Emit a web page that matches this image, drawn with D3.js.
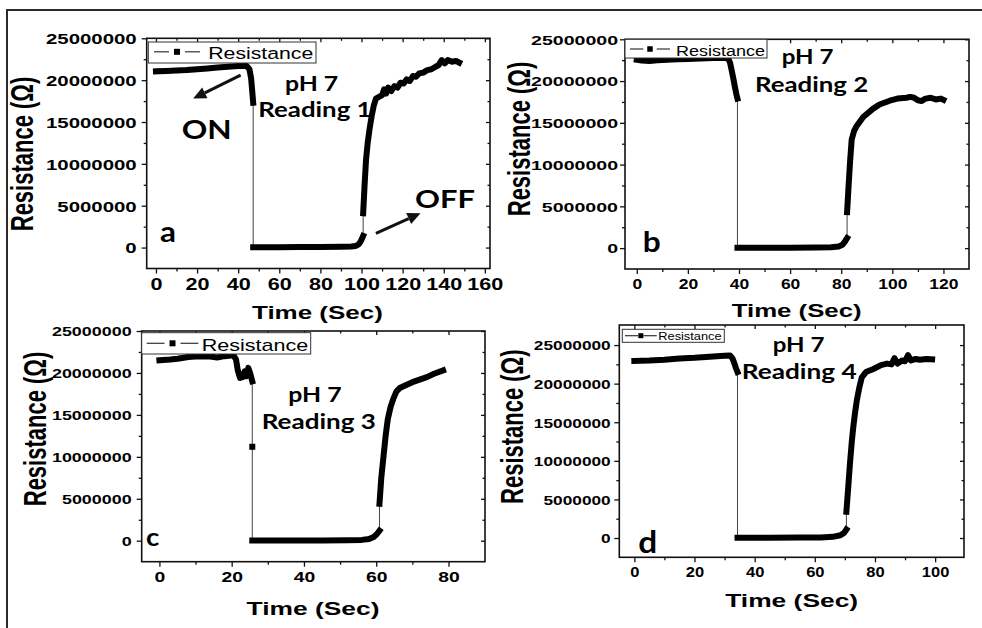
<!DOCTYPE html>
<html>
<head>
<meta charset="utf-8">
<script src="https://cdn.jsdelivr.net/npm/d3@7"></script>
<style>
  html, body { margin: 0; padding: 0; background: #fff; }
  svg { display: block; }
</style>
</head>
<body>
<svg id="fig" width="982" height="628"></svg>
<script>
// ---------------------------------------------------------------
// Resistance response of the sensor at pH 7, four repeated readings.
// Time in seconds, resistance in megaohms (MΩ).
// Each reading is a list of dense sampling runs; consecutive runs are
// joined by the thin connector of the line+symbol trace.
// ---------------------------------------------------------------

// Reading 1 (panel a)
const readingA = [
  [[0,21.05],[5,21.1],[10,21.15],[15,21.2],[20,21.3],[25,21.4],[30,21.5],[35,21.6],[40,21.7],
   [44,21.72],[45.5,21.3],[46.3,20.2],[46.8,18.8],[47.3,17.3]],
  [[47.3,0.05],[60,0.05],[70,0.06],[80,0.08],[90,0.1],[95,0.13],[97,0.18],[98.5,0.35],
   [99.5,0.7],[100.3,1.1],[100.8,1.4]],
  [[100.8,4.1],[101.5,7.5],[102.2,10.5],[103,12.5],[104,14.3],[105,15.8],[106,17.0],[107,17.8],
   [108.5,18.0],[110,18.2],[111,18.9],[112,18.4],[113,19.1],[114.5,18.7],[116,19.3],[117.5,19.1],
   [119,19.7],[120.5,19.6],[122,20.1],[123.5,19.9],[125,20.5],[126.5,20.4],[128,20.8],[130,20.9],
   [132,21.2],[134,21.3],[136,21.6],[137.5,21.8],[139,22.4],[140.5,22.0],[142,22.4],[144,22.2],
   [146,22.3],[147.5,22.1]]
];

// Reading 2 (panel b)
const readingB = [
  [[0,22.55],[2,22.45],[5,22.4],[8,22.5],[12,22.55],[16,22.6],[20,22.65],[25,22.7],[30,22.75],
   [34,22.8],[35.8,22.7],[36.5,22.2],[37.2,21.2],[37.8,20.3],[38.4,19.3],[39,18.4],[39.4,17.9]],
  [[39.4,0.03],[50,0.03],[60,0.04],[70,0.06],[76,0.1],[79,0.2],[80.5,0.4],[81.5,0.8],[82.3,1.2]],
  [[82.3,4.3],[82.9,7.5],[83.5,10.5],[84.1,13.0],[85,14.0],[86,14.6],[88.6,15.7],[92.5,16.7],
   [95,17.2],[99,17.65],[102,17.9],[105.5,18.0],[107,18.1],[108.5,18.0],[110,17.7],[111.5,17.6],
   [113,17.9],[115,18.0],[117,17.8],[119,17.9],[120,17.75]]
];

// Reading 3 (panel c); the single sample at 25.7 s sits mid-drop
const readingC = [
  [[0,21.5],[3,21.6],[5,21.7],[8,21.9],[11,22.0],[14,21.95],[16,21.85],[18,22.0],[20.5,22.1],
   [21.2,21.6],[21.7,20.3],[22.3,19.4],[23,19.5],[23.6,20.2],[24.1,19.6],[24.6,20.6],[25.1,20.0],
   [25.7,19.0]],
  [[25.7,11.2]],
  [[25.7,0.03],[35,0.03],[45,0.04],[52,0.06],[56,0.1],[58,0.2],[59.3,0.45],[60.2,0.8],[60.9,1.2]],
  [[60.9,4.4],[61.4,7.5],[62,10.0],[62.6,12.5],[63.2,14.5],[64,16.0],[64.8,17.0],[65.6,17.8],
   [66.5,18.2],[68,18.5],[70,18.9],[72,19.2],[74,19.5],[76,19.9],[78.5,20.3]]
];

// Reading 4 (panel d)
const readingD = [
  [[0,22.95],[5,23.0],[10,23.1],[15,23.25],[20,23.35],[25,23.5],[30,23.6],[31.8,23.65],
   [32.6,23.3],[33.2,22.7],[33.8,22.0],[34.3,21.5]],
  [[34.3,0.03],[45,0.03],[55,0.05],[62,0.08],[66,0.15],[68.5,0.35],[69.7,0.65],[70.5,1.1]],
  [[70.5,3.4],[71.1,6.5],[71.7,9.7],[72.3,12.5],[72.8,14.4],[73.4,16.3],[74,17.9],[74.8,19.5],
   [75.6,20.8],[77,21.5],[79.5,21.9],[82,22.4],[84,22.6],[85.5,22.5],[86.5,23.3],[87.5,22.6],
   [89,23.0],[90,22.9],[91,23.7],[92,23.0],[93.5,23.2],[95,23.1],[97,23.2],[99,23.15]]
];

// Axis tick labels
const timeTicksA = [0, 20, 40, 60, 80, 100, 120, 140, 160];
const timeTicksB = [0, 20, 40, 60, 80, 100, 120];
const timeTicksC = [0, 20, 40, 60, 80];
const timeTicksD = [0, 20, 40, 60, 80, 100];
const resistanceTicks = [0, 5000000, 10000000, 15000000, 20000000, 25000000];

// Text
const seriesName = "Resistance";
const xTitle = "Time (Sec)";
const yTitle = "Resistance (\u03A9)";
const conditionLabel = "pH 7";
const readingLabels = ["Reading 1", "Reading 2", "Reading 3", "Reading 4"];
const panelLetters = ["a", "b", "c", "d"];

// Switching arrows of panel a: [time, resistance MΩ] tail -> tip
const arrowOn  = { text: "ON",  tail: [41.2, 20.6], tip: [18.1, 17.8] };
const arrowOff = { text: "OFF", tail: [107, 1.7],   tip: [128.7, 4.1] };

// ---------------------------------------------------------------
const ARIAL = "'Liberation Sans', Arial, Helvetica, sans-serif";
const HUMAN = "Lato, 'Open Sans', sans-serif";
const MEG = 1e6;

const svg = d3.select("#fig");

// outer border of the figure
svg.append("path")
  .attr("d", "M7,628V10H982")
  .attr("fill", "none")
  .attr("stroke", "#2a2a2a")
  .attr("stroke-width", 2);

// text whose width is fitted to a given span (the figure is drawn wide)
function fitText(parent, str, x0, base, width, size, family, weight) {
  const g = parent.append("g");
  const t = g.append("text")
    .attr("font-family", family)
    .attr("font-weight", weight)
    .attr("font-size", size)
    .attr("fill", "#000")
    .text(str);
  const w = t.node().getComputedTextLength();
  g.attr("transform", `translate(${x0},${base}) scale(${width / w},1)`);
  return g;
}

const panels = [
  {
    runs: readingA, ticks: timeTicksA, xDomain: [-4.5, 162.5], yDomain: [-2.5e6, 25e6],
    frame: { x0: 146.7, x1: 490, y0: 38.3, y1: 268.5 },
    yTick: { size: 15, sx: 1.36, gap: 10 }, xTick: { size: 16, sx: 1.35, base: 21.5 },
    xT: { cx: 317.5, base: 319, w: 131 }, yT: { bx: 33.3, cy: 154 },
    legend: { x0: 148.3, x1: 316, y0: 42, y1: 63, l0: 154, l1: 200, ly: 51.8, sq: 6, gap: 5, tx: 208.3, tb: 59.3, tw: 105, ts: 17 },
    notes: [
      { text: conditionLabel, x0: 285, base: 90.7, w: 53.3, size: 20.5 },
      { text: readingLabels[0], x0: 258.3, base: 117.3, w: 113.3, size: 20.5 },
      { text: arrowOn.text, x0: 181.7, base: 139.3, w: 50, size: 27 },
      { text: arrowOff.text, x0: 415, base: 208.3, w: 60, size: 25.5 },
      { text: panelLetters[0], x0: 160, base: 241.7, w: 16, size: 28 }
    ],
    arrows: [arrowOn, arrowOff]
  },
  {
    runs: readingB, ticks: timeTicksB, xDomain: [-4.6, 130], yDomain: [-2.5e6, 25e6],
    frame: { x0: 625, x1: 969, y0: 39.3, y1: 269 },
    yTick: { size: 13.5, sx: 1.45, gap: 7 }, xTick: { size: 14, sx: 1.25, base: 20 },
    xT: { cx: 796.7, base: 317, w: 130 }, yT: { bx: 530, cy: 139 },
    legend: { x0: 625, x1: 767, y0: 39.3, y1: 58, l0: 630, l1: 670, ly: 49, sq: 5.5, gap: 4, tx: 676, tb: 55.5, tw: 89, ts: 15 },
    notes: [
      { text: conditionLabel, x0: 781.7, base: 64, w: 51.7, size: 20.5 },
      { text: readingLabels[1], x0: 755, base: 91.7, w: 113.3, size: 20.5 },
      { text: panelLetters[1], x0: 642.7, base: 251.7, w: 18, size: 29 }
    ],
    arrows: []
  },
  {
    runs: readingC, ticks: timeTicksC, xDomain: [-4.9, 90.1], yDomain: [-2.5e6, 25e6],
    frame: { x0: 141.7, x1: 485, y0: 331, y1: 561.7 },
    yTick: { size: 13, sx: 1.38, gap: 10 }, xTick: { size: 14, sx: 1.38, base: 20.6 },
    xT: { cx: 313, base: 615, w: 133 }, yT: { bx: 46, cy: 429 },
    legend: { x0: 141.7, x1: 310.7, y0: 332.7, y1: 354, l0: 146.7, l1: 198.3, ly: 343.3, sq: 6, gap: 5, tx: 201.7, tb: 350.7, tw: 106.7, ts: 17 },
    notes: [
      { text: conditionLabel, x0: 288.3, base: 401.7, w: 53.3, size: 20.5 },
      { text: readingLabels[2], x0: 261.7, base: 429.3, w: 114.3, size: 20.5 },
      { text: panelLetters[2], x0: 146, base: 546, w: 13.3, size: 25 }
    ],
    arrows: []
  },
  {
    runs: readingD, ticks: timeTicksD, xDomain: [-5, 109.6], yDomain: [-2.5e6, 27.6e6],
    frame: { x0: 619.3, x1: 964, y0: 325, y1: 557.3 },
    yTick: { size: 13.5, sx: 1.28, gap: 8.6 }, xTick: { size: 14, sx: 1.18, base: 19.4 },
    xT: { cx: 791.7, base: 606.7, w: 133 }, yT: { bx: 523, cy: 426.7 },
    legend: { x0: 622.3, x1: 724.3, y0: 329.3, y1: 342.3, l0: 625, l1: 656.7, ly: 335.7, sq: 5, gap: 0, tx: 658.3, tb: 340, tw: 63.3, ts: 10.5 },
    notes: [
      { text: conditionLabel, x0: 772.7, base: 351.7, w: 51.7, size: 20.5 },
      { text: readingLabels[3], x0: 741.7, base: 379, w: 115, size: 20.5 },
      { text: panelLetters[3], x0: 638.3, base: 552.7, w: 19, size: 30 }
    ],
    arrows: []
  }
];

function drawPanel(p) {
  const g = svg.append("g");
  const f = p.frame;
  const x = d3.scaleLinear().domain(p.xDomain).range([f.x0, f.x1]);
  const y = d3.scaleLinear().domain(p.yDomain).range([f.y1, f.y0]);

  const step = p.ticks[1] - p.ticks[0];
  const xMinor = d3.range(p.ticks[0] + step / 2, p.xDomain[1], step)
    .filter(v => Math.abs(x(v) - f.x1) > 2);
  const yStep = resistanceTicks[1] - resistanceTicks[0];
  const yMinor = d3.range(-yStep / 2, p.yDomain[1], yStep)
    .filter(v => Math.abs(y(v) - f.y0) > 2 && Math.abs(y(v) - f.y1) > 2);

  const tickStroke = sel => sel.selectAll("line").attr("stroke", "#111").attr("stroke-width", 1.3);

  // left axis
  const gl = g.append("g").attr("transform", `translate(${f.x0},0)`);
  gl.append("g").call(d3.axisLeft(y).tickValues(yMinor).tickSize(3).tickFormat(""))
    .call(s => s.select(".domain").remove()).call(tickStroke);
  gl.append("g").call(d3.axisLeft(y).tickValues(resistanceTicks).tickSize(5).tickFormat(d3.format("d")))
    .call(s => s.select(".domain").remove()).call(tickStroke)
    .call(s => s.selectAll("text")
      .attr("font-family", ARIAL).attr("font-weight", "bold")
      .attr("font-size", p.yTick.size).attr("fill", "#000")
      .attr("x", -p.yTick.gap / p.yTick.sx).attr("dy", "0.36em")
      .attr("transform", `scale(${p.yTick.sx},1)`));

  // bottom axis
  const gb = g.append("g").attr("transform", `translate(0,${f.y1})`);
  gb.append("g").call(d3.axisBottom(x).tickValues(xMinor).tickSize(3).tickFormat(""))
    .call(s => s.select(".domain").remove()).call(tickStroke);
  gb.append("g").call(d3.axisBottom(x).tickValues(p.ticks).tickSize(5).tickFormat(d3.format("d")))
    .call(s => s.select(".domain").remove()).call(tickStroke)
    .call(s => s.selectAll("text")
      .attr("font-family", ARIAL).attr("font-weight", "bold")
      .attr("font-size", p.xTick.size).attr("fill", "#000")
      .attr("y", p.xTick.base).attr("dy", 0)
      .attr("transform", `scale(${p.xTick.sx},1)`));

  // mirrored ticks on top and right edges, pointing inward
  const gt = g.append("g").attr("transform", `translate(0,${f.y0})`);
  gt.append("g").call(d3.axisTop(x).tickValues(xMinor).tickSize(-2.5).tickFormat(""))
    .call(s => s.select(".domain").remove()).call(tickStroke);
  gt.append("g").call(d3.axisTop(x).tickValues(p.ticks).tickSize(-4).tickFormat(""))
    .call(s => s.select(".domain").remove()).call(tickStroke);
  const gr = g.append("g").attr("transform", `translate(${f.x1},0)`);
  gr.append("g").call(d3.axisRight(y).tickValues(yMinor).tickSize(-2.5).tickFormat(""))
    .call(s => s.select(".domain").remove()).call(tickStroke);
  gr.append("g").call(d3.axisRight(y).tickValues(resistanceTicks).tickSize(-4).tickFormat(""))
    .call(s => s.select(".domain").remove()).call(tickStroke);

  // trace: thin connector through every sample, dense runs drawn as a heavy band
  const line = d3.line().x(d => x(d[0])).y(d => y(d[1] * MEG));
  const all = p.runs.flat();
  g.append("path").attr("d", line(all))
    .attr("fill", "none").attr("stroke", "#444").attr("stroke-width", 1);
  p.runs.forEach(run => {
    if (run.length > 1) {
      g.append("path").attr("d", line(run))
        .attr("fill", "none").attr("stroke", "#000")
        .attr("stroke-width", 6).attr("stroke-linejoin", "round").attr("stroke-linecap", "square");
    } else {
      g.selectAll(null).data(run).enter().append("rect")
        .attr("x", d => x(d[0]) - 3).attr("y", d => y(d[1] * MEG) - 3)
        .attr("width", 6).attr("height", 6).attr("fill", "#000");
    }
  });

  // frame
  g.append("rect")
    .attr("x", f.x0).attr("y", f.y0)
    .attr("width", f.x1 - f.x0).attr("height", f.y1 - f.y0)
    .attr("fill", "none").attr("stroke", "#111").attr("stroke-width", 1.6);

  // legend: line – square – line symbol, then series name
  const L = p.legend;
  const cx = (L.l0 + L.l1) / 2;
  g.append("rect").attr("x", L.x0).attr("y", L.y0)
    .attr("width", L.x1 - L.x0).attr("height", L.y1 - L.y0)
    .attr("fill", "#fff").attr("stroke", "#333").attr("stroke-width", 1);
  [[L.l0, cx - L.sq / 2 - L.gap], [cx + L.sq / 2 + L.gap, L.l1]].forEach(([a, b]) => {
    g.append("line").attr("x1", a).attr("x2", b).attr("y1", L.ly).attr("y2", L.ly)
      .attr("stroke", "#333").attr("stroke-width", 1.2);
  });
  g.append("rect").attr("x", cx - L.sq / 2).attr("y", L.ly - L.sq / 2)
    .attr("width", L.sq).attr("height", L.sq).attr("fill", "#000");
  fitText(g, seriesName, L.tx, L.tb, L.tw, L.ts, ARIAL, "normal");

  // axis titles
  fitText(g, xTitle, p.xT.cx - p.xT.w / 2, p.xT.base, p.xT.w, 19, ARIAL, "bold");
  g.append("g")
    .attr("transform", `translate(${p.yT.bx},${p.yT.cy}) scale(1.42,1) rotate(-90)`)
    .append("text")
    .attr("text-anchor", "middle")
    .attr("font-family", ARIAL).attr("font-weight", "bold")
    .attr("font-size", 22).attr("fill", "#000")
    .text(yTitle);

  // annotations
  p.notes.forEach(n => fitText(g, n.text, n.x0, n.base, n.w, n.size, HUMAN, "bold"));

  // arrows
  p.arrows.forEach(a => {
    const x1 = x(a.tail[0]), y1 = y(a.tail[1] * MEG);
    const x2 = x(a.tip[0]),  y2 = y(a.tip[1] * MEG);
    const ang = Math.atan2(y2 - y1, x2 - x1);
    const head = 13, half = 6;
    const bx = x2 - head * Math.cos(ang), by = y2 - head * Math.sin(ang);
    g.append("line").attr("x1", x1).attr("y1", y1).attr("x2", bx).attr("y2", by)
      .attr("stroke", "#111").attr("stroke-width", 3);
    const px = -Math.sin(ang) * half, py = Math.cos(ang) * half;
    g.append("path")
      .attr("d", `M${x2},${y2}L${bx + px},${by + py}L${bx - px},${by - py}Z`)
      .attr("fill", "#111");
  });
}

panels.forEach(drawPanel);
</script>
</body>
</html>
